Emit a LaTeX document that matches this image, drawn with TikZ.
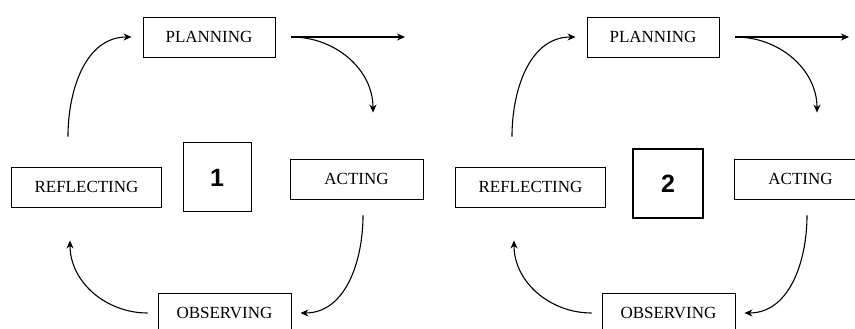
\documentclass[tikz,border=0pt]{standalone}
\usepackage{fontspec}
\setmainfont{Liberation Serif}
\newfontfamily\numfont{Liberation Sans}
\usetikzlibrary{arrows.meta}

\begin{document}
\begin{tikzpicture}[>={Stealth[length=8pt,width=7pt]}, x=1pt, y=1pt,
  stage/.style={draw, line width=0.9pt, minimum height=40pt, inner sep=0pt,
    font=\fontsize{17}{18}\selectfont},
  numbox/.style={draw, minimum width=68pt, minimum height=69pt, inner sep=0pt,
    font=\numfont\bfseries\fontsize{25}{25}\selectfont},
  link/.style={->, line width=1.1pt}]
  \useasboundingbox (0,0) rectangle (855,329);
  % the two action research cycles
  \foreach \i/\dx in {1/0, 2/444} {
    \begin{scope}[xshift=\dx]
      \node[stage, minimum width=132pt] (plan\i) at (209,292) {PLANNING};
      \node[stage, minimum width=150pt] (refl\i) at (86.5,142) {REFLECTING};
      \node[stage, minimum width=133pt] (act\i) at (356.5,150) {ACTING};
      \node[stage, minimum width=133pt] (obs\i) at (224.5,16) {OBSERVING};
      \coordinate (out\i) at (405,292);
      % plan -> act -> observe -> reflect -> plan
      \draw[link] ([xshift=16pt]plan\i.east) -- (out\i);
      \draw[link] ([xshift=16pt]plan\i.east) to[out=0,in=90]
        ([xshift=16.5pt,yshift=46pt]act\i.north);
      \draw[link] ([xshift=6.5pt,yshift=-16pt]act\i.south) to[out=-90,in=0]
        ([xshift=9pt]obs\i.east);
      \draw[link] ([xshift=-10pt]obs\i.west) to[out=180,in=-90]
        ([xshift=-16.5pt,yshift=-33pt]refl\i.south);
      \draw[link] ([xshift=-18.5pt,yshift=30pt]refl\i.north) to[out=90,in=180]
        ([xshift=-11pt]plan\i.west);
    \end{scope}
  }
  % cycle numbers
  \node[numbox, line width=1pt] (num1) at (217,151.5) {1};
  \node[numbox, line width=2pt, minimum width=70pt] (num2) at (668,145.5) {2};
\end{tikzpicture}
\end{document}
